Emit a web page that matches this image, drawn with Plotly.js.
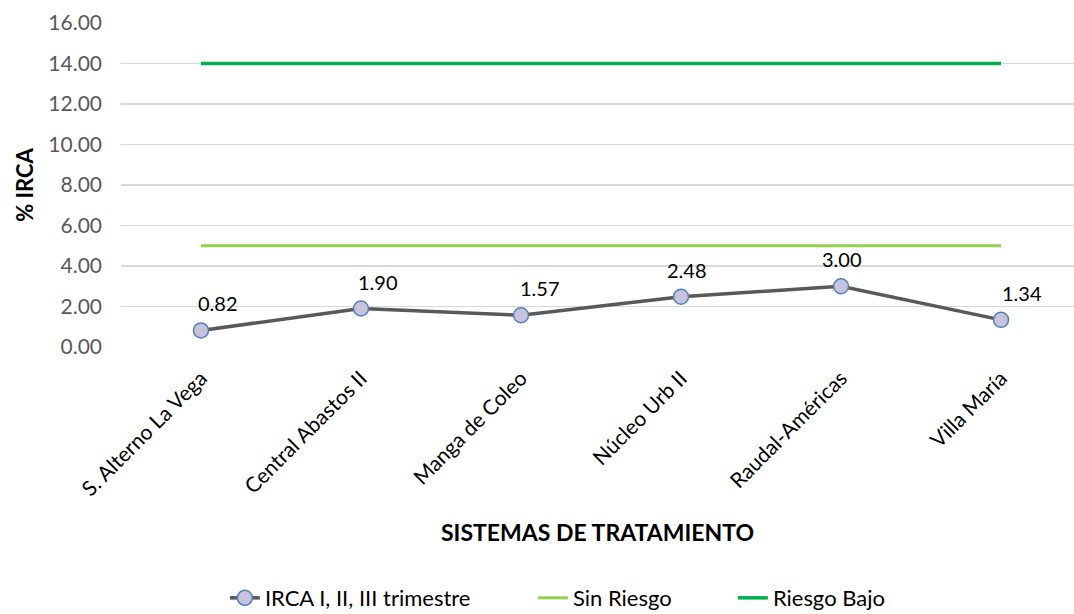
<!DOCTYPE html>
<html>
<head>
<meta charset="utf-8">
<script src="https://cdn.plot.ly/plotly-3.0.1.min.js"></script>
<style>
  html, body { margin: 0; padding: 0; background: #fff; }
  #graph { width: 1074px; height: 614px; }
</style>
</head>
<body>
<div id="graph"></div>
<script>
const sistemas = ['S. Alterno La Vega', 'Central Abastos II', 'Manga de Coleo', 'Núcleo Urb II', 'Raudal-Américas', 'Villa María'];
const irca = [0.82, 1.90, 1.57, 2.48, 3.00, 1.34];
const sinRiesgo = [5, 5, 5, 5, 5, 5];
const riesgoBajo = [14, 14, 14, 14, 14, 14];
const yTicks = [0, 2, 4, 6, 8, 10, 12, 14, 16];
// label nudges, the way Excel put them
const labelShift = [17, 17, 19, 6, 1, 21];

const fontFam = 'Lato, Open Sans, sans-serif';

const traces = [
    {
        x: sistemas, y: irca, name: 'IRCA I, II, III trimestre',
        type: 'scatter', mode: 'lines+markers',
        line: { color: '#595959', width: 3.5 },
        marker: { size: 15, color: '#c8c2dd', line: { color: '#4f81bd', width: 1.5 } },
        legendwidth: 263,
        cliponaxis: false
    },
    {
        x: sistemas, y: sinRiesgo, name: 'Sin Riesgo',
        type: 'scatter', mode: 'lines',
        line: { color: '#92d050', width: 3 },
        legendwidth: 155
    },
    {
        x: sistemas, y: riesgoBajo, name: 'Riesgo Bajo',
        type: 'scatter', mode: 'lines',
        line: { color: '#00b050', width: 3.5 },
        legendwidth: 120
    }
];

const labels = irca.map((v, i) => ({
    x: sistemas[i], y: v, xref: 'x', yref: 'y',
    text: v.toFixed(2), showarrow: false,
    xshift: labelShift[i], yshift: 27,
    font: { size: 20, color: '#000', family: fontFam }
}));

const layout = {
    width: 1074, height: 614,
    margin: { l: 121, r: 0, t: 23, b: 267 },
    paper_bgcolor: '#fff', plot_bgcolor: '#fff',
    font: { family: fontFam, color: '#595959' },
    showlegend: true,
    legend: {
        orientation: 'h', x: 0.109, xanchor: 'left', xref: 'paper',
        y: 0.026, yanchor: 'middle', yref: 'container',
        font: { size: 22, color: '#000' },
        traceorder: 'normal'
    },
    annotations: labels,
    xaxis: {
        type: 'category',
        range: [-0.5, 5.456],
        automargin: false,
        tickangle: -45,
        tickfont: { size: 21, color: '#000' },
        ticklabelstandoff: 14,
        showgrid: false, zeroline: false, showline: false,
        ticks: '',
        title: { text: '<b>SISTEMAS DE TRATAMIENTO</b>', font: { size: 23, color: '#000' }, standoff: 25 }
    },
    yaxis: {
        range: [0, 16],
        automargin: false,
        tickvals: yTicks,
        ticktext: yTicks.map(v => v.toFixed(2)),
        tickfont: { size: 21, color: '#595959' },
        ticklabelstandoff: 18,
        gridcolor: '#d9d9d9', gridwidth: 1.5,
        zeroline: false, showline: false,
        ticks: '',
        title: { text: '<b>% IRCA</b>', font: { size: 22, color: '#000' }, standoff: 8 }
    }
};

Plotly.newPlot('graph', traces, layout, { displayModeBar: false, staticPlot: true });
</script>
</body>
</html>
